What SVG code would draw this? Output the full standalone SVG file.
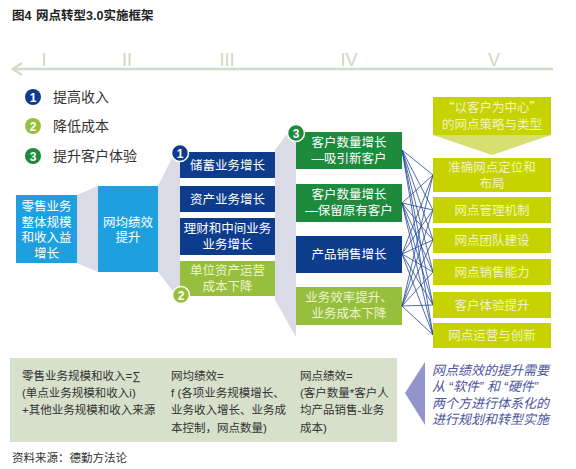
<svg xmlns="http://www.w3.org/2000/svg" width="576" height="469" viewBox="0 0 576 469">
<defs>
<style>
text{font-family:"Liberation Sans","Noto Sans CJK SC",sans-serif;}
.q{font-family:"Noto Sans CJK SC",sans-serif;}
.w{fill:#ffffff;font-size:12.5px;text-anchor:middle;}
.pw{fill:#eef3cc;font-size:12.5px;text-anchor:middle;}
.pv{fill:#f2f4c2;font-size:12.5px;text-anchor:middle;}
.leg{fill:#333333;font-size:14px;}
.rom{fill:#cdd7c4;font-size:18px;text-anchor:middle;}
.bt{fill:#333333;font-size:11.5px;}
.pt{fill:#4a55a0;font-size:13px;font-style:italic;}
.db{fill:#0e3c8c;}
.gr{fill:#1e8a3c;}
.lg{fill:#96bf3e;}
.lb{fill:#1ea0e0;}
.cv{fill:#c6d300;}
.fun{fill:#dadbe7;}
.num{fill:#ffffff;font-size:12px;font-weight:bold;text-anchor:middle;}
.mesh line{stroke:#23479a;stroke-width:0.8;}
</style>
</defs>
<rect width="576" height="469" fill="#ffffff"/>
<text x="12" y="20" style="font-size:12.5px;font-weight:bold;fill:#222">图4</text>
<text x="36" y="20" style="font-size:12.5px;font-weight:bold;fill:#222">网点转型3.0实施框架</text>
<g id="axis">
<line x1="13" y1="69" x2="553" y2="69" stroke="#d2dbca" stroke-width="2.5"/>
<polyline points="22,63 13,69 22,75" fill="none" stroke="#d2dbca" stroke-width="2.5"/>
<text class="rom" x="44" y="66">I</text>
<text class="rom" x="127" y="66">II</text>
<text class="rom" x="227" y="66">III</text>
<text class="rom" x="349" y="66">IV</text>
<text class="rom" x="494" y="66">V</text>
</g>
<g id="legend">
<circle cx="33" cy="97" r="8" class="db"/><text class="num" x="33" y="101.5">1</text>
<text class="leg" x="53" y="102">提高收入</text>
<circle cx="33" cy="126" r="8" class="lg"/><text class="num" x="33" y="130.5">2</text>
<text class="leg" x="53" y="131">降低成本</text>
<circle cx="33" cy="156" r="8" class="gr"/><text class="num" x="33" y="160.5">3</text>
<text class="leg" x="53" y="161">提升客户体验</text>
</g>
<g id="funnels">
<polygon class="fun" points="77,195 98,186 98,272 77,263"/>
<polygon class="fun" points="158,186 180,142 180,300 158,272"/>
<polygon class="fun" points="275,150 296,122 296,337 275,300"/>
</g>
<g id="n-retail"><rect class="lb" x="16" y="195" width="61" height="68"/>
<text class="w" x="46.5" y="211">零售业务</text><text class="w" x="46.5" y="226.5">整体规模</text><text class="w" x="46.5" y="242">和收入益</text><text class="w" x="46.5" y="257.5">增长</text></g>
<g id="n-avg"><rect class="lb" x="98" y="186" width="60" height="86"/>
<text class="w" x="128" y="227">网均绩效</text><text class="w" x="128" y="242">提升</text></g>
<g id="n-savings"><rect class="db" x="180" y="152" width="95" height="26"/><text class="w" x="227.5" y="169.5">储蓄业务增长</text></g>
<g id="n-asset"><rect class="db" x="180" y="186" width="95" height="26"/><text class="w" x="227.5" y="203.5">资产业务增长</text></g>
<g id="n-wealth"><rect class="db" x="180" y="218" width="95" height="37"/><text class="w" x="227.5" y="233">理财和中间业务</text><text class="w" x="227.5" y="249">业务增长</text></g>
<g id="n-cost"><rect class="lg" x="180" y="261" width="95" height="35"/><text class="pw" x="227.5" y="275">单位资产运营</text><text class="pw" x="227.5" y="291">成本下降</text></g>
<g id="badge1"><circle cx="180" cy="153" r="8.5" class="db" stroke="#fff" stroke-width="1.5"/><text class="num" x="180" y="157.5">1</text></g>
<g id="badge2"><circle cx="181" cy="295" r="8.5" class="lg" stroke="#fff" stroke-width="1.5"/><text class="num" x="181" y="299.5">2</text></g>
<g id="n-newcust"><rect class="gr" x="296" y="132" width="106" height="37"/><text class="w" x="349" y="147">客户数量增长</text><text class="w" x="349" y="163">—吸引新客户</text></g>
<g id="n-keepcust"><rect class="gr" x="296" y="184" width="106" height="38"/><text class="w" x="349" y="199">客户数量增长</text><text class="w" x="349" y="215">—保留原有客户</text></g>
<g id="n-sales"><rect class="db" x="296" y="236" width="106" height="37"/><text class="w" x="349" y="259">产品销售增长</text></g>
<g id="n-eff"><rect class="lg" x="296" y="287" width="106" height="38"/><text class="pw" x="349" y="302">业务效率提升、</text><text class="pw" x="349" y="318">业务成本下降</text></g>
<g id="badge3"><circle cx="296" cy="133" r="8.5" class="gr" stroke="#fff" stroke-width="1.5"/><text class="num" x="296" y="137.5">3</text></g>
<g id="connectors" class="mesh">
<line x1="402" y1="150" x2="433" y2="175"/><line x1="402" y1="150" x2="433" y2="210"/><line x1="402" y1="150" x2="433" y2="240"/><line x1="402" y1="150" x2="433" y2="272"/><line x1="402" y1="150" x2="433" y2="305"/><line x1="402" y1="150" x2="433" y2="335"/>
<line x1="402" y1="203" x2="433" y2="175"/><line x1="402" y1="203" x2="433" y2="210"/><line x1="402" y1="203" x2="433" y2="240"/><line x1="402" y1="203" x2="433" y2="272"/><line x1="402" y1="203" x2="433" y2="305"/><line x1="402" y1="203" x2="433" y2="335"/>
<line x1="402" y1="254" x2="433" y2="175"/><line x1="402" y1="254" x2="433" y2="210"/><line x1="402" y1="254" x2="433" y2="240"/><line x1="402" y1="254" x2="433" y2="272"/><line x1="402" y1="254" x2="433" y2="305"/><line x1="402" y1="254" x2="433" y2="335"/>
<line x1="402" y1="306" x2="433" y2="175"/><line x1="402" y1="306" x2="433" y2="210"/><line x1="402" y1="306" x2="433" y2="240"/><line x1="402" y1="306" x2="433" y2="272"/><line x1="402" y1="306" x2="433" y2="305"/><line x1="402" y1="306" x2="433" y2="335"/>
</g>
<g id="n-strategy"><rect class="cv" x="433" y="97" width="118" height="38"/>
<polygon points="433,135 551,135 492,155" fill="#d6df70"/>
<text class="pv" x="492" y="112"><tspan class="q">“</tspan>以客户为中心<tspan class="q">”</tspan></text><text class="pv" x="492" y="129">的网点策略与类型</text></g>
<g id="n-position"><rect class="cv" x="433" y="158" width="118" height="34"/><text class="pv" x="492" y="172">准确网点定位和</text><text class="pv" x="492" y="188">布局</text></g>
<g id="n-mgmt"><rect class="cv" x="433" y="197" width="118" height="26"/><text class="pv" x="492" y="214.5">网点管理机制</text></g>
<g id="n-team"><rect class="cv" x="433" y="228" width="118" height="25"/><text class="pv" x="492" y="245">网点团队建设</text></g>
<g id="n-salescap"><rect class="cv" x="433" y="259" width="118" height="26"/><text class="pv" x="492" y="276.5">网点销售能力</text></g>
<g id="n-cx"><rect class="cv" x="433" y="292" width="118" height="26"/><text class="pv" x="492" y="309.5">客户体验提升</text></g>
<g id="n-ops"><rect class="cv" x="433" y="323" width="118" height="25"/><text class="pv" x="492" y="340">网点运营与创新</text></g>
<g id="formulas">
<rect x="10" y="358" width="387" height="84" fill="#d6e0cb"/>
<text class="bt" x="22" y="380">零售业务规模和收入=∑</text>
<text class="bt" x="22" y="397">(单点业务规模和收入i)</text>
<text class="bt" x="22" y="414">+其他业务规模和收入来源</text>
<text class="bt" x="171" y="380">网均绩效=</text>
<text class="bt" x="171" y="397">f (各项业务规模增长、</text>
<text class="bt" x="171" y="414">业务收入增长、业务成</text>
<text class="bt" x="171" y="432">本控制，网点数量)</text>
<text class="bt" x="300" y="380">网点绩效=</text>
<text class="bt" x="300" y="397">(客户数量*客户人</text>
<text class="bt" x="300" y="414">均产品销售-业务</text>
<text class="bt" x="300" y="432">成本)</text>
</g>
<g id="note">
<polygon points="405,393 425,362 425,425" fill="#9394cc"/>
<text class="pt" x="432" y="375">网点绩效的提升需要</text>
<text class="pt" x="432" y="391" xml:space="preserve">从 “软件” 和 “硬件”</text>
<text class="pt" x="432" y="408">两个方进行体系化的</text>
<text class="pt" x="432" y="424">进行规划和转型实施</text>
</g>
<text x="12" y="462" style="font-size:11.5px;fill:#333">资料来源：德勤方法论</text>
</svg>
